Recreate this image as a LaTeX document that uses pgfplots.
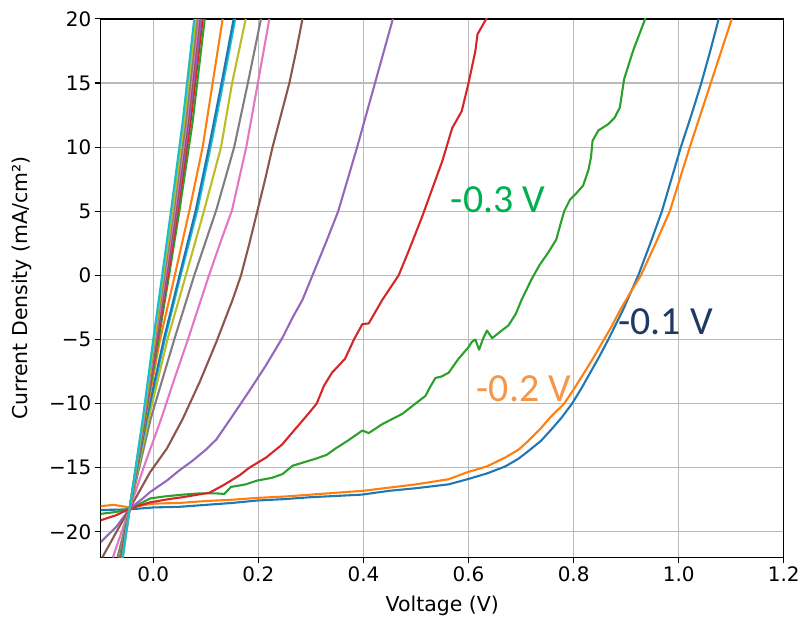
\documentclass[border=0pt]{standalone}
\usepackage{pgfplots}
\pgfplotsset{compat=1.18}
\usepackage{fontspec}
\setmainfont{DejaVu Sans}
\newfontfamily\calibri{Carlito}

% matplotlib tab10
\definecolor{C0}{HTML}{1F77B4}
\definecolor{C1}{HTML}{FF7F0E}
\definecolor{C2}{HTML}{2CA02C}
\definecolor{C3}{HTML}{D62728}
\definecolor{C4}{HTML}{9467BD}
\definecolor{C5}{HTML}{8C564B}
\definecolor{C6}{HTML}{E377C2}
\definecolor{C7}{HTML}{7F7F7F}
\definecolor{C8}{HTML}{BCBD22}
\definecolor{C9}{HTML}{17BECF}
\definecolor{lblgreen}{RGB}{0,176,80}
\definecolor{lblorange}{HTML}{F79646}
\definecolor{lblblue}{HTML}{1F3864}

\begin{document}
\begin{tikzpicture}
\begin{axis}[
    name=ax,
    width=685pt, height=540pt, scale only axis,
    xmin=-0.1, xmax=1.2, ymin=-22, ymax=20,
    xtick={0,0.2,0.4,0.6,0.8,1.0,1.2},
    xticklabels={0.0,0.2,0.4,0.6,0.8,1.0,1.2},
    ytick={-20,-15,-10,-5,0,5,10,15,20},
    yticklabels={−20,−15,−10,−5,0,5,10,15,20},
    tick pos=left, tick align=outside,
    major tick length=6pt,
    tick style={line width=1.1pt, black},
    axis line style={line width=1.3pt, black},
    grid=major,
    major grid style={line width=1.2pt, color=black!27},
    ticklabel style={font=\fontsize{20}{24}\selectfont},
    xlabel={Voltage (V)},
    ylabel={Current Density (mA/cm²)},
    every axis x label/.style={at={(axis description cs:0.5,-0.089)}, anchor=center,
      font=\fontsize{20.5}{24}\selectfont},
    every axis y label/.style={at={(axis description cs:-0.115,0.5)}, rotate=90, anchor=center,
      font=\fontsize{20.5}{24}\selectfont},
    every axis plot/.append style={line width=2.1pt, line join=round},
  ]
  % -0.1 V
  \addplot[C0] coordinates {(-0.1,-18.3) (-0.045,-18.25) (0.0,-18.1) (0.05,-18.05) (0.1,-17.9) (0.15,-17.75) (0.198,-17.56) (0.25,-17.45) (0.3,-17.3) (0.35,-17.2) (0.397,-17.1) (0.45,-16.8) (0.5,-16.6) (0.562,-16.3) (0.598,-15.9) (0.635,-15.45) (0.670,-14.9) (0.695,-14.3) (0.714,-13.7) (0.738,-12.9) (0.758,-12.0) (0.777,-11.1) (0.797,-10.0) (0.815,-8.8) (0.83,-7.7) (0.848,-6.4) (0.866,-5.0) (0.894,-2.7) (0.923,0) (0.946,2.5) (0.968,5) (0.986,7.5) (1.004,10) (1.024,12.5) (1.043,15) (1.06,17.5) (1.076,20)};
  % -0.2 V
  \addplot[C1] coordinates {(-0.1,-18.0) (-0.075,-17.9) (-0.045,-18.1) (0.0,-17.8) (0.05,-17.75) (0.1,-17.6) (0.15,-17.5) (0.2,-17.35) (0.25,-17.25) (0.3,-17.1) (0.35,-16.95) (0.4,-16.8) (0.45,-16.55) (0.5,-16.3) (0.562,-15.9) (0.598,-15.35) (0.635,-14.9) (0.670,-14.2) (0.695,-13.6) (0.714,-12.9) (0.736,-12.0) (0.755,-11.1) (0.782,-10.0) (0.80,-8.9) (0.82,-7.6) (0.838,-6.4) (0.855,-5.2) (0.872,-4.0) (0.89,-2.6) (0.91,-1.2) (0.928,0) (0.956,2.5) (0.983,5) (1.002,7.5) (1.021,10) (1.041,12.5) (1.061,15) (1.081,17.5) (1.101,20)};
  % -0.3 V
  \addplot[C2] coordinates {(-0.1,-18.6) (-0.07,-18.45) (-0.045,-18.2) (-0.02,-17.7) (-0.006,-17.4) (0.02,-17.25) (0.056,-17.1) (0.09,-17.0) (0.120,-17.0) (0.135,-17.05) (0.148,-16.5) (0.176,-16.3) (0.198,-16.0) (0.225,-15.8) (0.246,-15.5) (0.265,-14.85) (0.285,-14.6) (0.309,-14.3) (0.33,-14.0) (0.347,-13.5) (0.37,-12.9) (0.398,-12.1) (0.41,-12.3) (0.436,-11.6) (0.455,-11.2) (0.474,-10.8) (0.499,-10.0) (0.518,-9.4) (0.527,-8.7) (0.537,-8.0) (0.548,-7.9) (0.562,-7.6) (0.581,-6.5) (0.600,-5.6) (0.606,-5.2) (0.613,-5.0) (0.620,-5.8) (0.628,-4.9) (0.635,-4.3) (0.645,-4.9) (0.660,-4.4) (0.676,-3.9) (0.69,-3.0) (0.701,-1.9) (0.72,-0.3) (0.735,0.8) (0.752,1.8) (0.767,2.8) (0.775,4.0) (0.782,5.0) (0.793,5.9) (0.805,6.4) (0.818,7.0) (0.828,8.2) (0.833,9.2) (0.836,10.5) (0.847,11.3) (0.866,11.8) (0.878,12.3) (0.888,13.1) (0.896,15.3) (0.913,17.5) (0.937,20.1)};
  % -0.4 V
  \addplot[C3] coordinates {(-0.1,-19.1) (-0.07,-18.7) (-0.045,-18.2) (-0.006,-17.7) (0.03,-17.45) (0.056,-17.3) (0.085,-17.1) (0.107,-16.95) (0.132,-16.4) (0.164,-15.6) (0.183,-15.0) (0.215,-14.2) (0.245,-13.2) (0.270,-12.0) (0.295,-10.8) (0.311,-10.0) (0.325,-8.6) (0.340,-7.6) (0.365,-6.5) (0.382,-5.0) (0.398,-3.8) (0.41,-3.75) (0.436,-1.9) (0.467,0) (0.486,1.9) (0.511,4.5) (0.534,7.1) (0.550,8.9) (0.558,10.0) (0.569,11.5) (0.587,12.8) (0.600,15.0) (0.613,17.5) (0.617,18.8) (0.635,20.1)};
  % -0.5 V
  \addplot[C4] coordinates {(-0.1,-20.8) (-0.07,-19.6) (-0.045,-18.2) (-0.02,-17.4) (-0.006,-16.9) (0.026,-16.0) (0.05,-15.2) (0.075,-14.45) (0.1,-13.6) (0.120,-12.8) (0.151,-10.95) (0.183,-9.0) (0.214,-7.05) (0.246,-4.85) (0.265,-3.3) (0.284,-1.9) (0.303,0) (0.328,2.5) (0.352,5) (0.370,7.5) (0.388,10) (0.405,12.5) (0.422,15) (0.439,17.5) (0.456,20)};
  % -0.6 V
  \addplot[C5] coordinates {(-0.097,-22) (-0.07,-20.0) (-0.045,-18.2) (-0.006,-15.35) (0.026,-13.5) (0.056,-11.2) (0.088,-8.35) (0.120,-5.2) (0.151,-1.9) (0.167,0) (0.183,2.5) (0.198,5) (0.213,7.5) (0.227,10) (0.243,12.5) (0.259,15) (0.272,17.5) (0.284,20)};
  % -0.7 V
  \addplot[C6] coordinates {(-0.077,-22) (-0.045,-18.2) (-0.015,-14.6) (0.015,-11.2) (0.040,-8.1) (0.066,-5) (0.086,-2.5) (0.106,0) (0.128,2.6) (0.150,5.1) (0.177,10) (0.199,15) (0.221,20)};
  % -0.8 V
  \addplot[C7] coordinates {(-0.068,-22) (-0.045,-18.2) (-0.005,-11.2) (0.040,-5) (0.078,0) (0.120,5.1) (0.154,10) (0.180,15) (0.205,20)};
  % -0.9 V
  \addplot[C8] coordinates {(-0.064,-22) (-0.045,-18.2) (-0.009,-11.2) (0.027,-5) (0.062,0) (0.097,5.1) (0.129,10) (0.150,15) (0.176,20)};
  % -1.0 V
  \addplot[C9] coordinates {(-0.063,-22) (-0.045,-18.2) (-0.012,-11.2) (0.022,-5) (0.052,0) (0.084,5.1) (0.109,10) (0.133,15) (0.156,20)};
  % -1.1 V
  \addplot[C0] coordinates {(-0.063,-22) (-0.045,-18.2) (-0.013,-11.2) (0.020,-5) (0.050,0) (0.081,5.1) (0.106,10) (0.130,15) (0.153,20)};
  % -1.2 V
  \addplot[C1] coordinates {(-0.062,-22) (-0.045,-18.2) (-0.015,-11.2) (0.013,-5) (0.041,0) (0.069,5.1) (0.094,10) (0.113,15) (0.132,20)};
  % -1.3 V ... -2.0 V
  \addplot[C2] coordinates {(-0.061,-22) (-0.045,-18.2) (-0.016,-11.2) (0.010,-5) (0.030,0) (0.050,5.1) (0.075,12) (0.098,20)};
  \addplot[C3] coordinates {(-0.061,-22) (-0.045,-18.2) (-0.017,-11.2) (0.008,-5) (0.028,0) (0.047,5.1) (0.071,12) (0.094,20)};
  \addplot[C4] coordinates {(-0.060,-22) (-0.045,-18.2) (-0.017,-11.2) (0.007,-5) (0.026,0) (0.045,5.1) (0.068,12) (0.091,20)};
  \addplot[C5] coordinates {(-0.060,-22) (-0.045,-18.2) (-0.018,-11.2) (0.006,-5) (0.025,0) (0.043,5.1) (0.066,12) (0.088,20)};
  \addplot[C6] coordinates {(-0.059,-22) (-0.045,-18.2) (-0.018,-11.2) (0.004,-5) (0.023,0) (0.041,5.1) (0.064,12) (0.086,20)};
  \addplot[C7] coordinates {(-0.059,-22) (-0.045,-18.2) (-0.019,-11.2) (0.003,-5) (0.021,0) (0.039,5.1) (0.062,12) (0.084,20)};
  \addplot[C8] coordinates {(-0.058,-22) (-0.045,-18.2) (-0.019,-11.2) (0.002,-5) (0.019,0) (0.037,5.1) (0.059,12) (0.081,20)};
  \addplot[C9] coordinates {(-0.058,-22) (-0.045,-18.2) (-0.020,-11.2) (0.000,-5) (0.017,0) (0.034,5.1) (0.056,12) (0.078,20)};

  \node[anchor=base west, inner sep=0pt, text=lblgreen, font=\calibri\fontsize{40}{44}\selectfont] at (axis cs:0.566,4.9) {-0.3 V};
  \node[anchor=base west, inner sep=0pt, text=lblblue, font=\calibri\fontsize{40}{44}\selectfont] at (axis cs:0.885,-4.6) {-0.1 V};
  \node[anchor=base west, inner sep=0pt, text=lblorange, font=\calibri\fontsize{40}{44}\selectfont] at (axis cs:0.615,-9.8) {-0.2 V};
\end{axis}
\path ([shift={(-101pt,-69pt)}]ax.south west) rectangle ([shift={(17pt,19pt)}]ax.north east);
\end{tikzpicture}
\end{document}
